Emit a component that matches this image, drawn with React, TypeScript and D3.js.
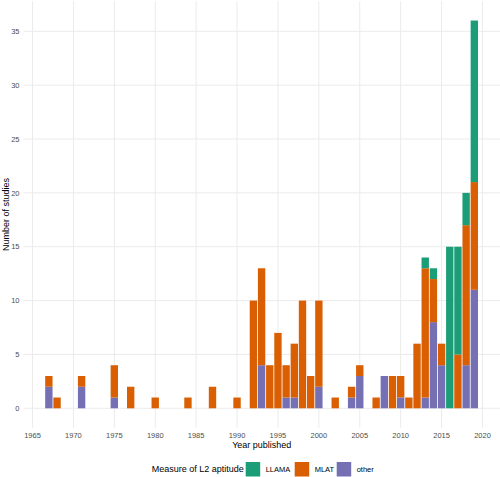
import React from "react";
import * as d3 from "d3";

const years = [1967, 1968, 1971, 1975, 1977, 1980, 1984, 1987, 1990, 1992, 1993, 1994, 1995, 1996, 1997, 1998, 1999, 2000, 2002, 2004, 2005, 2007, 2008, 2009, 2010, 2011, 2012, 2013, 2014, 2015, 2016, 2017, 2018, 2019];
const otherVals = [2, 0, 2, 1, 0, 0, 0, 0, 0, 0, 4, 0, 0, 1, 1, 0, 0, 2, 0, 1, 3, 0, 3, 0, 1, 0, 0, 1, 8, 4, 0, 0, 4, 11];
const mlatVals = [1, 1, 1, 3, 2, 1, 1, 2, 1, 10, 9, 4, 7, 3, 5, 10, 3, 8, 1, 1, 1, 1, 0, 3, 2, 1, 6, 12, 4, 2, 0, 5, 13, 10];
const llamaVals = [0, 0, 0, 0, 0, 0, 0, 0, 0, 0, 0, 0, 0, 0, 0, 0, 0, 0, 0, 0, 0, 0, 0, 0, 0, 0, 0, 1, 1, 0, 15, 10, 3, 15];

const xTicks = [1965, 1970, 1975, 1980, 1985, 1990, 1995, 2000, 2005, 2010, 2015, 2020];
const yTicks = [0, 5, 10, 15, 20, 25, 30, 35];
const seriesNames = ["LLAMA", "MLAT", "other"];
const colors: Record<string, string> = { LLAMA: "#1B9E77", MLAT: "#D95F02", other: "#7570B3" };

const W = 500, H = 477;

export default function App() {
  const x = d3.scaleLinear().domain([1965, 2020]).range([32.5, 482.5]);
  const y = d3.scaleLinear().domain([0, 35]).range([408.3, 31.3]);
  const panelTop = y(37.8);
  const panelBottom = y(-1.8);
  const panelLeft = x(1963.9);
  const panelRight = W;
  const bw = x(1965.9) - x(1965);

  const rows = years.map((yr, i) => ({ year: yr, other: otherVals[i], MLAT: mlatVals[i], LLAMA: llamaVals[i] }));
  const stack = d3.stack<any>().keys(["other", "MLAT", "LLAMA"]);
  const layers = stack(rows);

  const font = "Liberation Sans, Arial, sans-serif";

  return (
    <svg width={W} height={H} style={{ position: "absolute", left: 0, top: 0, background: "#fff" }} fontFamily={font}>
      <rect width={W} height={H} fill="#fff" />
      {xTicks.map((t) => (
        <line key={"gx" + t} x1={x(t)} x2={x(t)} y1={panelTop} y2={panelBottom} stroke="#EBEBEB" strokeWidth={1} />
      ))}
      {yTicks.map((t) => (
        <line key={"gy" + t} x1={panelLeft} x2={panelRight} y1={y(t)} y2={y(t)} stroke="#EBEBEB" strokeWidth={1} />
      ))}
      {layers.map((layer) => (
        <g key={layer.key} fill={colors[layer.key]}>
          {layer.map((d: any, i: number) => {
            const h = y(d[0]) - y(d[1]);
            if (h <= 0) return null;
            return <rect key={i} x={x(d.data.year) - bw / 2} y={y(d[1])} width={bw} height={h} />;
          })}
        </g>
      ))}
      {xTicks.map((t) => (
        <text key={"tx" + t} x={x(t)} y={438} textAnchor="middle" fontSize={7.5} fill="#4D4D4D">{t}</text>
      ))}
      {yTicks.map((t) => (
        <text key={"ty" + t} x={19.5} y={y(t) + 2.7} textAnchor="end" fontSize={7.5} fill="#4D4D4D">{t}</text>
      ))}
      <text x={(panelLeft + panelRight) / 2} y={448} textAnchor="middle" fontSize={9} fill="#000">Year published</text>
      <text transform={`translate(8.5,${(panelTop + panelBottom) / 2}) rotate(-90)`} textAnchor="middle" fontSize={9} fill="#000">Number of studies</text>
      <g>
        <text x={151.7} y={472} fontSize={9} fill="#000">Measure of L2 aptitude</text>
        {seriesNames.map((s, i) => {
          const kx = [245.7, 294.7, 336.7][i];
          return (
            <g key={s}>
              <rect x={kx} y={462} width={14.5} height={14.5} fill={colors[s]} />
              <text x={kx + 20} y={472} fontSize={7.5} fill="#000">{s}</text>
            </g>
          );
        })}
      </g>
    </svg>
  );
}
